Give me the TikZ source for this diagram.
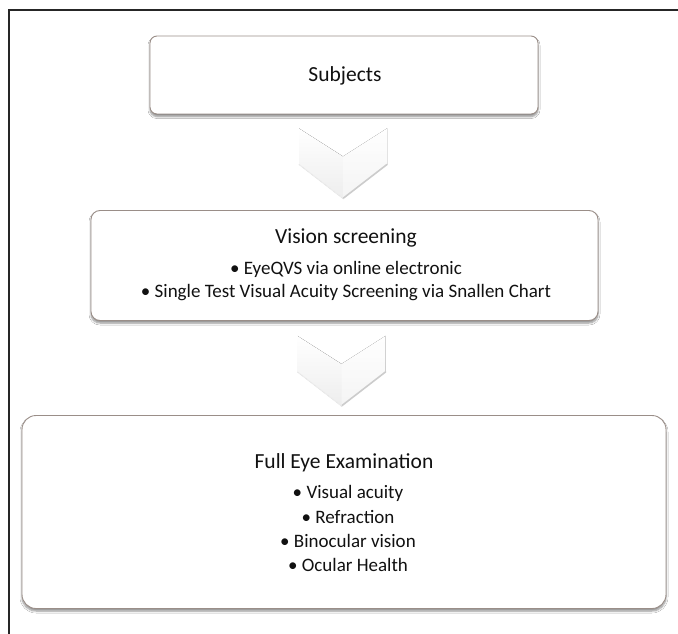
\documentclass[tikz,border=0pt]{standalone}
\usepackage{fontspec}
\setmainfont{Carlito}
\usetikzlibrary{shadows.blur,calc}
\definecolor{boxline}{HTML}{9A8E88}
\definecolor{txt}{HTML}{111111}
\tikzset{
  stagebox/.style={draw=boxline, line width=0.9pt, fill=white, rounded corners=#1,
    blur shadow={shadow xshift=0pt, shadow yshift=-2.5pt, shadow blur steps=6, shadow blur radius=2pt, shadow opacity=45},
    inner sep=0pt},
  titletext/.style={font=\fontsize{21.5}{25}\selectfont, text=txt, inner sep=0pt},
  itemtext/.style={font=\fontsize{19}{23}\selectfont, text=txt, inner sep=0pt},
  frameline/.style={line width=2.2pt, black!85},
}
\newcommand{\chevronshape}[2]{% #1 top centre coordinate, #2 name
  \coordinate (#2) at (#1);
  \fill[top color=white, bottom color=gray!14]
    ($(#2)+(-44,0)$) -- ($(#2)+(0,28)$) -- ($(#2)+(44,0)$) -- ($(#2)+(44,36)$)
    -- ($(#2)+(0,70)$) -- ($(#2)+(-44,36)$) -- cycle;
  \fill[white, opacity=0.4] ($(#2)+(0,28)$) -- ($(#2)+(44,0)$) -- ($(#2)+(44,36)$) -- ($(#2)+(0,70)$) -- cycle;
  \draw[gray!40, line width=1.6pt, line cap=round] ($(#2)+(44,36)$) -- ($(#2)+(0,70)$);
  \draw[gray!15, line width=1pt, line cap=round] ($(#2)+(0,70)$) -- ($(#2)+(-44,36)$);
}
\begin{document}
\begin{tikzpicture}[x=1pt, y=-1pt]
\useasboundingbox (0,0) rectangle (678,634);
\fill[white] (0,0) rectangle (678,634);
% outer frame (top and left visible)
\draw[frameline] (9,634) -- (9,10) -- (680,10);

% boxes
\node[stagebox=7pt, minimum width=388pt, minimum height=78pt] (b1) at (344,75) {};
\node[stagebox=9pt, minimum width=507pt, minimum height=110pt] (b2) at (344.5,265.5) {};
\node[stagebox=14pt, minimum width=644pt, minimum height=193pt] (b3) at (344,512) {};

% chevrons between boxes
\chevronshape{$(b1.south)+(-1,14)$}{c1}
\chevronshape{$(b2.south)+(-3,15)$}{c2}

% texts
\node[titletext] (t1) at (345,76) {Subjects};

\node[titletext] (t2) at (346,238) {Vision screening};
\node[itemtext] (t2a) at (346,269) {• EyeQVS via online electronic};
\node[itemtext] (t2b) at (346,293) {• Single Test Visual Acuity Screening via Snallen Chart};

\node[titletext] (t3) at (344,463) {Full Eye Examination};
\node[itemtext] (t3a) at (348,493) {• Visual acuity};
\node[itemtext] (t3b) at (348,517) {• Refraction};
\node[itemtext] (t3c) at (348,541) {• Binocular vision};
\node[itemtext] (t3d) at (348,565) {• Ocular Health};
\end{tikzpicture}
\end{document}
